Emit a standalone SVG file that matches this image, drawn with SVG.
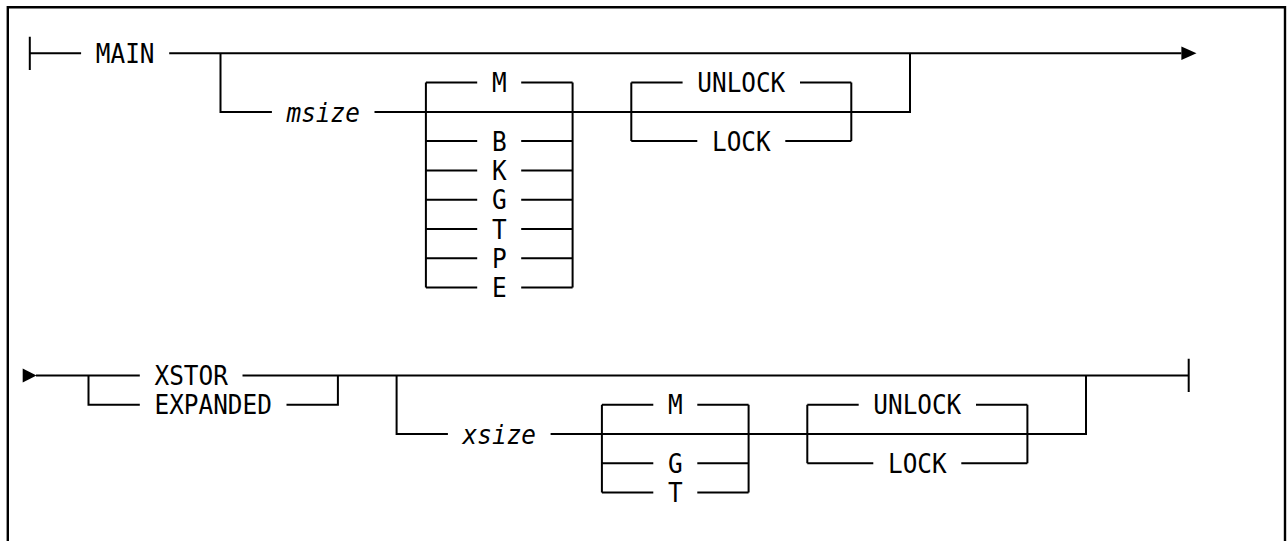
<svg xmlns="http://www.w3.org/2000/svg" width="1287" height="541" viewBox="0 0 1287 541">
<style>
.t{font-family:"DejaVu Sans Mono","Liberation Mono",monospace;font-size:26.5px;fill:#000}
.i{font-style:italic}
.l{fill:none;stroke:#000;stroke-width:2}
.b{fill:none;stroke:#000;stroke-width:2.4}
</style>
<rect width="1287" height="541" fill="#fff"/>
<path class="b" d="M7.8,541 V7.2 H1285 V541"/>
<g id="connectors">
<path class="l" d="M29.8,36.7 V70 M29.8,53.3 H81.1 M169.2,53.3 H1181.4"/>
<polygon points="1181.4,46.6 1196.5,53.3 1181.4,60" fill="#000"/>
<path class="l" d="M220.5,53.3 V111.9 H271.9 M374.5,111.9 H910 V53.3"/>
<path class="l" d="M425.9,82.6 V287.5 M572.6,82.6 V287.5"/>
<path class="l" d="M425.9,82.6 H477.2 M521.2,82.6 H572.6 M425.9,141.1 H477.2 M521.2,141.1 H572.6 M425.9,170.4 H477.2 M521.2,170.4 H572.6 M425.9,199.7 H477.2 M521.2,199.7 H572.6 M425.9,229 H477.2 M521.2,229 H572.6 M425.9,258.3 H477.2 M521.2,258.3 H572.6 M425.9,287.5 H477.2 M521.2,287.5 H572.6"/>
<path class="l" d="M631.3,82.6 V141.1 M851.3,82.6 V141.1 M631.3,82.6 H682.6 M800,82.6 H851.3 M631.3,141.1 H697.3 M785.3,141.1 H851.3"/>
<polygon points="22.7,368.4 36.5,375.4 22.7,382.4" fill="#000"/>
<path class="l" d="M36,375.4 H139.8 M242.5,375.4 H1188.7 M1188.7,358.7 V392"/>
<path class="l" d="M88.5,375.4 V404.7 H139.8 M286.5,404.7 H337.9 V375.4"/>
<path class="l" d="M396.6,375.4 V433.9 H447.9 M550.6,433.9 H1086 V375.4"/>
<path class="l" d="M601.9,404.7 V492.5 M748.6,404.7 V492.5 M601.9,404.7 H653.3 M697.3,404.7 H748.6 M601.9,463.2 H653.3 M697.3,463.2 H748.6 M601.9,492.5 H653.3 M697.3,492.5 H748.6"/>
<path class="l" d="M807.3,404.7 V463.2 M1027.4,404.7 V463.2 M807.3,404.7 H858.7 M976,404.7 H1027.4 M807.3,463.2 H873.3 M961.3,463.2 H1027.4"/>
</g>
<g id="n-main"><text class="t" x="95.8" y="63" textLength="58.7" lengthAdjust="spacingAndGlyphs">MAIN</text></g>
<g id="n-msize"><text class="t i" x="286.5" y="121.6" textLength="73.4" lengthAdjust="spacingAndGlyphs">msize</text></g>
<g id="n-m1"><text class="t" x="491.9" y="92.3" textLength="14.7" lengthAdjust="spacingAndGlyphs">M</text></g>
<g id="n-b1"><text class="t" x="491.9" y="150.8" textLength="14.7" lengthAdjust="spacingAndGlyphs">B</text></g>
<g id="n-k1"><text class="t" x="491.9" y="180.1" textLength="14.7" lengthAdjust="spacingAndGlyphs">K</text></g>
<g id="n-g1"><text class="t" x="491.9" y="209.4" textLength="14.7" lengthAdjust="spacingAndGlyphs">G</text></g>
<g id="n-t1"><text class="t" x="491.9" y="238.7" textLength="14.7" lengthAdjust="spacingAndGlyphs">T</text></g>
<g id="n-p1"><text class="t" x="491.9" y="268" textLength="14.7" lengthAdjust="spacingAndGlyphs">P</text></g>
<g id="n-e1"><text class="t" x="491.9" y="297.2" textLength="14.7" lengthAdjust="spacingAndGlyphs">E</text></g>
<g id="n-unlock1"><text class="t" x="697.3" y="92.3" textLength="88" lengthAdjust="spacingAndGlyphs">UNLOCK</text></g>
<g id="n-lock1"><text class="t" x="712" y="150.8" textLength="58.7" lengthAdjust="spacingAndGlyphs">LOCK</text></g>
<g id="n-xstor"><text class="t" x="154.5" y="385.1" textLength="73.4" lengthAdjust="spacingAndGlyphs">XSTOR</text></g>
<g id="n-expanded"><text class="t" x="154.5" y="414.4" textLength="117.4" lengthAdjust="spacingAndGlyphs">EXPANDED</text></g>
<g id="n-xsize"><text class="t i" x="462.6" y="443.6" textLength="73.4" lengthAdjust="spacingAndGlyphs">xsize</text></g>
<g id="n-m2"><text class="t" x="668" y="414.4" textLength="14.7" lengthAdjust="spacingAndGlyphs">M</text></g>
<g id="n-g2"><text class="t" x="668" y="472.9" textLength="14.7" lengthAdjust="spacingAndGlyphs">G</text></g>
<g id="n-t2"><text class="t" x="668" y="502.2" textLength="14.7" lengthAdjust="spacingAndGlyphs">T</text></g>
<g id="n-unlock2"><text class="t" x="873.3" y="414.4" textLength="88" lengthAdjust="spacingAndGlyphs">UNLOCK</text></g>
<g id="n-lock2"><text class="t" x="888" y="472.9" textLength="58.7" lengthAdjust="spacingAndGlyphs">LOCK</text></g>
</svg>
